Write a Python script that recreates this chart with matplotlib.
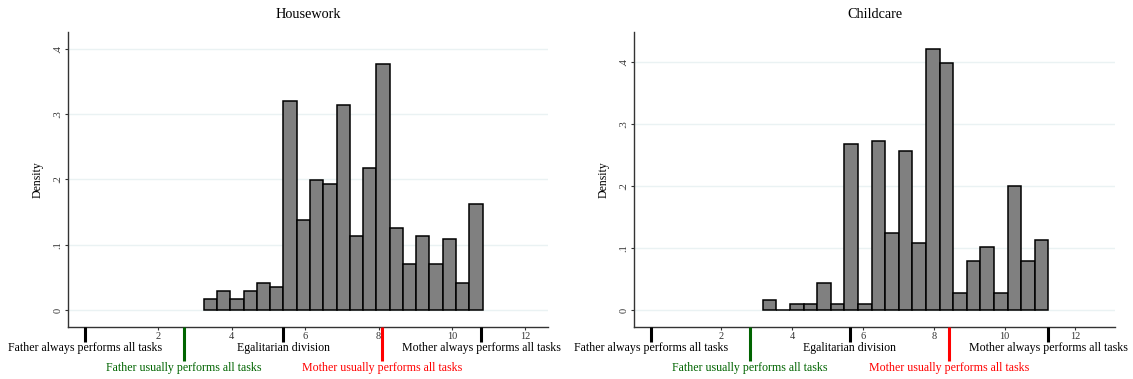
import numpy as np
import matplotlib
matplotlib.use("Agg")
import matplotlib.pyplot as plt

plt.rcParams['font.family'] = ['Liberation Serif', 'DejaVu Serif']

# histogram bins (left edge of first bin, bin width) and densities
house_start, house_width = 3.24, 0.3614
house_density = [0.017, 0.029, 0.017, 0.029, 0.041, 0.035, 0.320, 0.138,
                 0.199, 0.193, 0.314, 0.114, 0.218, 0.376, 0.126, 0.071,
                 0.114, 0.071, 0.108, 0.041, 0.163]

child_start, child_width = 3.17, 0.3843
child_density = [0.016, 0.0, 0.010, 0.010, 0.044, 0.010, 0.268, 0.010,
                 0.273, 0.125, 0.256, 0.108, 0.422, 0.399, 0.027, 0.079,
                 0.101, 0.027, 0.200, 0.079, 0.113]

# scale markers under the x axis
house_marks = [0, 2.7, 5.4, 8.1, 10.8]
child_marks = [0, 2.81, 5.62, 8.43, 11.24]
mark_labels = ["Father always performs all tasks", "Father usually performs all tasks",
               "Egalitarian division", "Mother usually performs all tasks",
               "Mother always performs all tasks"]
mark_colors = ["black", "darkgreen", "black", "red", "black"]

xticks = [2, 4, 6, 8, 10, 12]
yticks = [0, 0.1, 0.2, 0.3, 0.4]
ytick_labels = ["0", ".1", ".2", ".3", ".4"]

fig = plt.figure(figsize=(11.33, 3.79), dpi=100)
ax1 = fig.add_axes([0.0603, 0.138, 0.4236, 0.778])
ax2 = fig.add_axes([0.5596, 0.138, 0.4245, 0.778])


def draw_panel(ax, title, start, width, dens, marks, xlim, ylim):
    n = len(dens)
    lefts = start + width * np.arange(n)
    ax.bar(lefts, dens, width=width, align='edge', color='#808080',
           edgecolor='black', linewidth=1.1, zorder=3)
    ax.set_xlim(*xlim)
    ax.set_ylim(*ylim)
    ax.set_xticks(xticks)
    ax.set_yticks(yticks)
    ax.set_yticklabels(ytick_labels, rotation=90, va='center')
    ax.tick_params(axis='both', labelsize=7.5, length=2.5, width=0.8,
                   colors='#333333', pad=1.5)
    ax.grid(axis='y', color='#eaf2f3', linewidth=1.0, zorder=0)
    for s in ['top', 'right']:
        ax.spines[s].set_visible(False)
    for s in ['left', 'bottom']:
        ax.spines[s].set_color('#333333')
        ax.spines[s].set_linewidth(1.0)
    ax.set_ylabel("Density", fontsize=8.5, labelpad=7)
    ax.set_title(title, fontsize=10.3, pad=10)

    tr = ax.get_xaxis_transform()
    for i, (m, lab, c) in enumerate(zip(marks, mark_labels, mark_colors)):
        if i % 2 == 0:
            ax.plot([m, m], [0, -0.051], transform=tr, color=c, lw=2.2,
                    clip_on=False, solid_capstyle='butt', zorder=5)
            ax.text(m, -0.071, lab, transform=tr, ha='center', va='center',
                    fontsize=8.6, color='black')
        else:
            ax.plot([m, m], [0, -0.115], transform=tr, color=c, lw=2.2,
                    clip_on=False, solid_capstyle='butt', zorder=5)
            ax.text(m, -0.139, lab, transform=tr, ha='center', va='center',
                    fontsize=8.6, color=c)


draw_panel(ax1, "Housework", house_start, house_width, house_density,
           house_marks, (-0.45, 12.62), (-0.0256, 0.426))
draw_panel(ax2, "Childcare", child_start, child_width, child_density,
           child_marks, (-0.47, 13.12), (-0.027, 0.449))

fig.savefig("out.png", dpi=100)
